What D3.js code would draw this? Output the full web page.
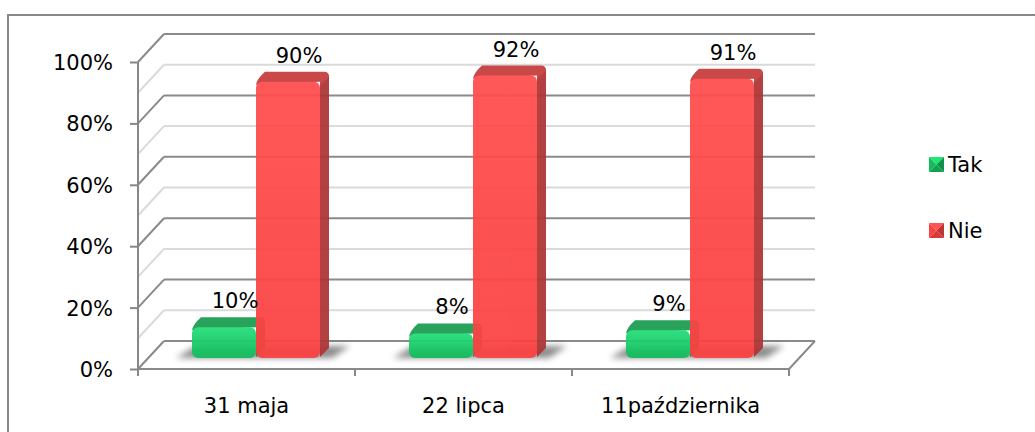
<!DOCTYPE html>
<html>
<head>
<meta charset="utf-8">
<script src="https://cdn.jsdelivr.net/npm/d3@7"></script>
<style>
  body { margin: 0; background: #fff; }
  text { font-family: "DejaVu Sans", Verdana, sans-serif; fill: #000; }
</style>
</head>
<body>
<svg class="chart"></svg>
<script>
// data
const categories = ["31 maja", "22 lipca", "11października"];
const series = ["Tak", "Nie"];
const takValues = [10, 8, 9];
const nieValues = [90, 92, 91];
const yTicks = [0, 20, 40, 60, 80, 100];
const minorTicks = [10, 30, 50, 70, 90];

const W = 1035, H = 432;
const fontSize = "21px";
const depth = {dx: 26, dy: -28};      // floor / wall depth
const barShift = {dx: 10, dy: -11};   // bar front plane
const barDepth = {dx: 9, dy: -10};

const svg = d3.select(".chart").attr("width", W).attr("height", H);

const x = d3.scaleBand().domain(categories).range([138, 789]);
const xs = d3.scaleBand().domain(series).range([44, 172]);
const y = d3.scaleLinear().domain([0, 100]).range([369, 62]);

const colors = {
  Tak: {front: ["#22de78", "#14bb5c"], top: "#1c9e52", side: "#138a47"},
  Nie: {front: ["#ff4e4e", "#fb4242"], top: "#c63d3d", side: "#b03636"}
};

const defs = svg.append("defs");
series.forEach(s => {
  const g = defs.append("linearGradient").attr("id", "grad-" + s)
    .attr("x1", 0).attr("x2", 0).attr("y1", 0).attr("y2", 1);
  g.append("stop").attr("offset", "0%").attr("stop-color", colors[s].front[0]);
  g.append("stop").attr("offset", "100%").attr("stop-color", colors[s].front[1]);
});
defs.append("filter").attr("id", "blur")
  .attr("x", "-50%").attr("y", "-50%").attr("width", "200%").attr("height", "200%")
  .append("feGaussianBlur").attr("stdDeviation", 3);

// outer border
svg.append("rect")
  .attr("x", 8).attr("y", 15)
  .attr("width", W + 20).attr("height", H + 20)
  .style("fill", "none").style("stroke", "#878787").style("stroke-width", 2);

const xL = x.range()[0], xR = x.range()[1];

// gridlines on back wall and left wall
const grid = svg.append("g");
function gridLine(v, color) {
  const yy = y(v);
  grid.append("line")
    .attr("x1", xL + depth.dx).attr("x2", xR + depth.dx)
    .attr("y1", yy + depth.dy).attr("y2", yy + depth.dy)
    .style("stroke", color).style("stroke-width", 2);
  grid.append("line")
    .attr("x1", xL).attr("y1", yy)
    .attr("x2", xL + depth.dx).attr("y2", yy + depth.dy)
    .style("stroke", color).style("stroke-width", 2);
}
minorTicks.forEach(v => gridLine(v, "#dadada"));
yTicks.forEach(v => gridLine(v, "#8a8a8a"));

// floor front edge and right edge
svg.append("line")
  .attr("x1", xL).attr("x2", xR).attr("y1", y(0)).attr("y2", y(0))
  .style("stroke", "#8a8a8a").style("stroke-width", 2);
svg.append("line")
  .attr("x1", xR).attr("y1", y(0))
  .attr("x2", xR + depth.dx).attr("y2", y(0) + depth.dy)
  .style("stroke", "#8a8a8a").style("stroke-width", 2);

// y axis
const yAxis = d3.axisLeft(y).tickValues(yTicks).tickSize(8).tickPadding(17)
  .tickFormat(d => d + "%");
svg.append("g")
  .attr("transform", "translate(" + xL + ",0)")
  .call(yAxis)
  .call(g => g.select(".domain").attr("d", "M0," + (y(0) + 7) + "V" + y(100)))
  .call(g => g.selectAll("line, path").style("stroke", "#878787").style("stroke-width", 2))
  .call(g => g.selectAll("text").style("font-size", fontSize).attr("dy", "0.36em")
    .style("font-family", "'DejaVu Sans', Verdana, sans-serif"));

// x axis ticks on the band edges
const xEdges = categories.map(c => x(c)).concat([xR]);
svg.append("g").selectAll("line")
  .data(xEdges).enter().append("line")
  .attr("x1", d => d).attr("x2", d => d)
  .attr("y1", y(0)).attr("y2", y(0) + 7)
  .style("stroke", "#878787").style("stroke-width", 2);

svg.append("g").selectAll("text")
  .data(categories).enter().append("text")
  .attr("x", d => x(d) + x.bandwidth() / 2)
  .attr("y", 413)
  .style("text-anchor", "middle")
  .style("font-size", fontSize)
  .text(d => d);

// bars
const rows = categories.map((c, i) => ({cat: c, Tak: takValues[i], Nie: nieValues[i]}));

const groups = svg.append("g").selectAll("g")
  .data(rows).enter().append("g")
  .attr("transform", d => "translate(" + (x(d.cat) + barShift.dx) + "," + barShift.dy + ")");

// floor shadow
groups.append("path")
  .attr("d", () => {
    const a = xs("Tak"), b = xs("Nie") + xs.bandwidth();
    const b0 = y(0);
    return "M" + (a - 16) + "," + b0 + "L" + (b + 12) + "," + b0 +
           "L" + (b + 30) + "," + (b0 - 12) + "L" + (a + 4) + "," + (b0 - 12) + "Z";
  })
  .style("fill", "#000").style("opacity", 0.45)
  .attr("filter", "url(#blur)");

series.forEach(s => {
  const bar = groups.append("g").style("opacity", 0.94);
  const w = xs.bandwidth();
  // side face
  bar.append("path")
    .attr("d", d => {
      const x1 = xs(s) + w, t = y(d[s]), b0 = y(0);
      return "M" + x1 + "," + (t + 3) + "L" + (x1 + barDepth.dx) + "," + (t + barDepth.dy + 3) +
             "L" + (x1 + barDepth.dx) + "," + (b0 + barDepth.dy) + "L" + x1 + "," + (b0 - 1) + "Z";
    })
    .style("fill", colors[s].side);
  // top face
  bar.append("path")
    .attr("d", d => {
      const x0 = xs(s), t = y(d[s]);
      return "M" + x0 + "," + (t + 3) +
             "Q" + (x0 + 1) + "," + (t - 3) + " " + (x0 + barDepth.dx) + "," + (t + barDepth.dy) +
             "L" + (x0 + w + barDepth.dx - 5) + "," + (t + barDepth.dy) +
             "Q" + (x0 + w + barDepth.dx) + "," + (t + barDepth.dy) + " " + (x0 + w + barDepth.dx) + "," + (t + barDepth.dy + 5) +
             "L" + (x0 + w) + "," + (t + 4) + "L" + (x0 + w) + "," + t + "Z";
    })
    .style("fill", colors[s].top);
  // front face
  bar.append("rect")
    .attr("x", xs(s))
    .attr("y", d => y(d[s]))
    .attr("width", w)
    .attr("height", d => y(0) - y(d[s]))
    .attr("rx", 6)
    .style("fill", "url(#grad-" + s + ")");
});

// value labels
series.forEach(s => {
  groups.append("text")
    .attr("x", xs(s) + xs.bandwidth() / 2 + 11)
    .attr("y", d => y(d[s]) - 19)
    .style("text-anchor", "middle")
    .style("font-size", fontSize)
    .text(d => d[s] + "%");
});

// legend
const legend = svg.append("g").selectAll("g")
  .data(series).enter().append("g")
  .attr("transform", (d, i) => "translate(929," + (157 + i * 66) + ")");

const sq = 15;
const tri = [
  {pts: [[0, 0], [sq, 0], [sq / 2, sq / 2]], k: 0.3},
  {pts: [[0, 0], [0, sq], [sq / 2, sq / 2]], k: 0},
  {pts: [[sq, 0], [sq, sq], [sq / 2, sq / 2]], k: -0.35},
  {pts: [[0, sq], [sq, sq], [sq / 2, sq / 2]], k: -0.2}
];
legend.each(function(s) {
  const g = d3.select(this);
  const baseCol = d3.color(colors[s].front[1]);
  tri.forEach(t => {
    g.append("path")
      .attr("d", "M" + t.pts.map(p => p.join(",")).join("L") + "Z")
      .style("fill", t.k >= 0 ? baseCol.brighter(t.k * 2) : baseCol.darker(-t.k * 2));
  });
  g.append("text")
    .attr("x", 19).attr("y", 15)
    .style("font-size", fontSize)
    .text(s);
});
</script>
</body>
</html>
